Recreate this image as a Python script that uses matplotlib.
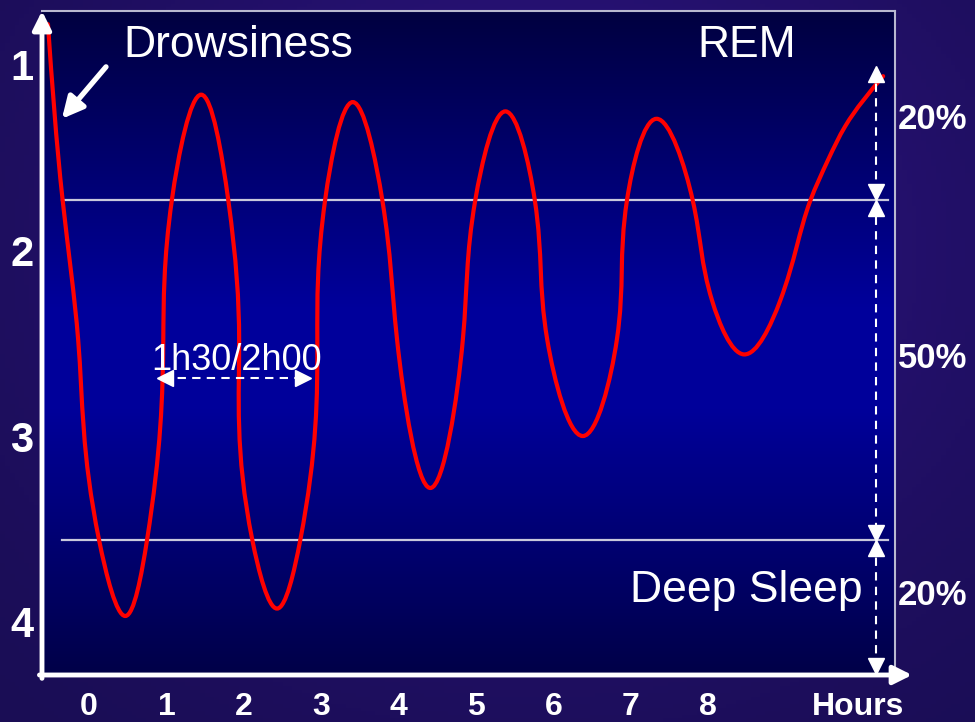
import numpy as np
import matplotlib.pyplot as plt
from matplotlib.colors import LinearSegmentedColormap
from matplotlib.path import Path
from matplotlib.patches import PathPatch

# Sleep cycle curve (hours, sleep stage)
hours = [-0.53, -0.34, -0.14, 0.13, 0.47, 0.75, 0.96, 1.07, 1.45, 1.80,
         1.94, 2.11, 2.43, 2.73, 2.95, 3.05, 3.41, 3.79, 3.98, 4.41,
         4.83, 4.99, 5.38, 5.76, 5.92, 6.38, 6.82, 6.95, 7.33, 7.80,
         8.05, 8.46, 8.93, 9.32, 9.55, 9.77, 10.26]
stage = [0.78, 1.73, 2.48, 3.56, 3.97, 3.56, 2.48, 1.73, 1.16, 1.73,
         2.48, 3.56, 3.93, 3.56, 2.48, 1.73, 1.20, 1.73, 2.48, 3.28,
         2.48, 1.73, 1.25, 1.73, 2.48, 3.00, 2.48, 1.73, 1.29, 1.73,
         2.27, 2.56, 2.27, 1.73, 1.51, 1.33, 1.06]

x_ticks = [0, 1, 2, 3, 4, 5, 6, 7, 8, 9.93]
x_labels = ["0", "1", "2", "3", "4", "5", "6", "7", "8", "Hours"]
y_ticks = [1, 2, 3, 4]
y_labels = ["1", "2", "3", "4"]

rem_limit = 1.73     # boundary REM / light sleep
deep_limit = 3.56    # boundary light / deep sleep
band_shares = ["20%", "50%", "20%"]

plt.rcParams["font.family"] = ["Liberation Sans", "DejaVu Sans"]

fig = plt.figure(figsize=(9.75, 7.22), dpi=100)

# purple slide background
bg = fig.add_axes([0, 0, 1, 1])
yy, xx = np.mgrid[0:1:200j, 0:1:200j]
glow = np.exp(-((xx - 0.55) ** 2 / 0.25 + (yy - 0.35) ** 2 / 0.3))
bg_cmap = LinearSegmentedColormap.from_list("bg", ["#1a0d55", "#2c1380"])
bg.imshow(glow, cmap=bg_cmap, aspect="auto", extent=[0, 1, 0, 1])
bg.axis("off")

ax = fig.add_axes([42 / 975, 47 / 722, 853 / 975, 664 / 722])

# blue gradient panel
panel_cmap = LinearSegmentedColormap.from_list(
    "panel", [(0, "#000040"), (0.45, "#00009c"), (0.6, "#00009a"), (1, "#000048")])
grad = np.linspace(0, 1, 256).reshape(-1, 1)
ax.imshow(grad, cmap=panel_cmap, aspect="auto", extent=[0, 1, 0, 1],
          transform=ax.transAxes, zorder=0)
ax.set_xlim(-0.607, 10.413)
ax.set_ylim(4.288, 0.709)

for side in ["top", "right"]:
    ax.spines[side].set_color("#b8b8d0")
    ax.spines[side].set_linewidth(1.5)
for side in ["left", "bottom"]:
    ax.spines[side].set_visible(False)

# stage boundaries
for yv in [rem_limit, deep_limit]:
    ax.plot([-0.35, 10.32], [yv, yv], color="#c8c8dc", lw=1.6, zorder=2)

# smooth curve through the read points: natural parametric cubic spline
# (chord-length parameter in screen scale), drawn as cubic Bezier segments
pts = np.column_stack([hours, stage])
t = np.concatenate([[0], np.cumsum(np.linalg.norm(
    np.diff(pts * np.array([77.4, 185.5]), axis=0), axis=1))])
n = len(pts)
h = np.diff(t)
A = np.zeros((n, n))
rhs = np.zeros((n, 2))
A[0, 0] = A[-1, -1] = 1
for i in range(1, n - 1):
    A[i, i - 1], A[i, i], A[i, i + 1] = h[i - 1], 2 * (h[i - 1] + h[i]), h[i]
    rhs[i] = 6 * ((pts[i + 1] - pts[i]) / h[i] - (pts[i] - pts[i - 1]) / h[i - 1])
M = np.linalg.solve(A, rhs)
verts = [tuple(pts[0])]
codes = [Path.MOVETO]
for i in range(n - 1):
    slope = (pts[i + 1] - pts[i]) / h[i]
    d0 = slope - h[i] * (2 * M[i] + M[i + 1]) / 6
    d1 = slope + h[i] * (M[i] + 2 * M[i + 1]) / 6
    verts += [tuple(pts[i] + d0 * h[i] / 3), tuple(pts[i + 1] - d1 * h[i] / 3),
              tuple(pts[i + 1])]
    codes += [Path.CURVE4] * 3
ax.add_patch(PathPatch(Path(verts, codes), fill=False, edgecolor="#ff0000",
                       lw=3, zorder=4, capstyle="round"))

# axis arrows
arrow_kw = dict(arrowstyle="-|>", color="white", lw=3.5, mutation_scale=28,
                shrinkA=0, shrinkB=0)
ax.annotate("", xy=(0, 1.0), xytext=(0, -0.005), xycoords="axes fraction",
            arrowprops=arrow_kw, annotation_clip=False, zorder=6)
ax.annotate("", xy=(1.02, 0), xytext=(-0.003, 0), xycoords="axes fraction",
            arrowprops=arrow_kw, annotation_clip=False, zorder=6)

# drowsiness pointer
ax.annotate("", xy=(-0.35, 1.29), xytext=(0.22, 1.01),
            arrowprops=dict(arrowstyle="-|>", color="white", lw=3.8,
                            mutation_scale=32, shrinkA=0, shrinkB=0), zorder=6)

# dashed arrows for the three bands
xa = 10.17
spans = [(1.02, 1.715), (1.74, 3.55), (3.575, 4.272)]
for top, bottom in spans:
    ax.plot([xa, xa], [top, bottom], color="white", lw=1.5, ls=(0, (4, 3)),
            zorder=5, clip_on=False)
    ax.plot(xa, top + 0.03, marker="^", color="white", ms=11, zorder=6,
            clip_on=False)
    ax.plot(xa, bottom - 0.03, marker="v", color="white", ms=11, zorder=6,
            clip_on=False)

# cycle length arrow
ax.plot([0.95, 2.8], [2.687, 2.687], color="white", lw=1.5, ls=(0, (4, 3)),
        zorder=5)
ax.plot(0.98, 2.687, marker="<", color="white", ms=11, zorder=6)
ax.plot(2.77, 2.687, marker=">", color="white", ms=11, zorder=6)

ax.text(1.91, 2.644, "1h30/2h00", color="white", fontsize=26,
        ha="center", va="baseline", zorder=7)
ax.text(1.93, 0.957, "Drowsiness", color="white", fontsize=32,
        ha="center", va="baseline", zorder=7)
ax.text(8.50, 0.957, "REM", color="white", fontsize=32,
        ha="center", va="baseline", zorder=7)
ax.text(8.49, 3.895, "Deep Sleep", color="white", fontsize=32,
        ha="center", va="baseline", zorder=7)

for yv, lab in zip([1.296, 2.58, 3.857], band_shares):
    ax.text(10.90, yv, lab, color="white", fontsize=25, fontweight="bold",
            ha="center", va="center", clip_on=False)

ax.set_xticks(x_ticks)
ax.set_xticklabels(x_labels, fontsize=23, fontweight="bold", color="white")
ax.set_yticks(y_ticks)
ax.set_yticklabels(y_labels, fontsize=30, fontweight="bold", color="white")
ax.tick_params(axis="x", length=0, pad=12)
ax.tick_params(axis="y", length=0, pad=6)

fig.savefig("out.png", dpi=100)
